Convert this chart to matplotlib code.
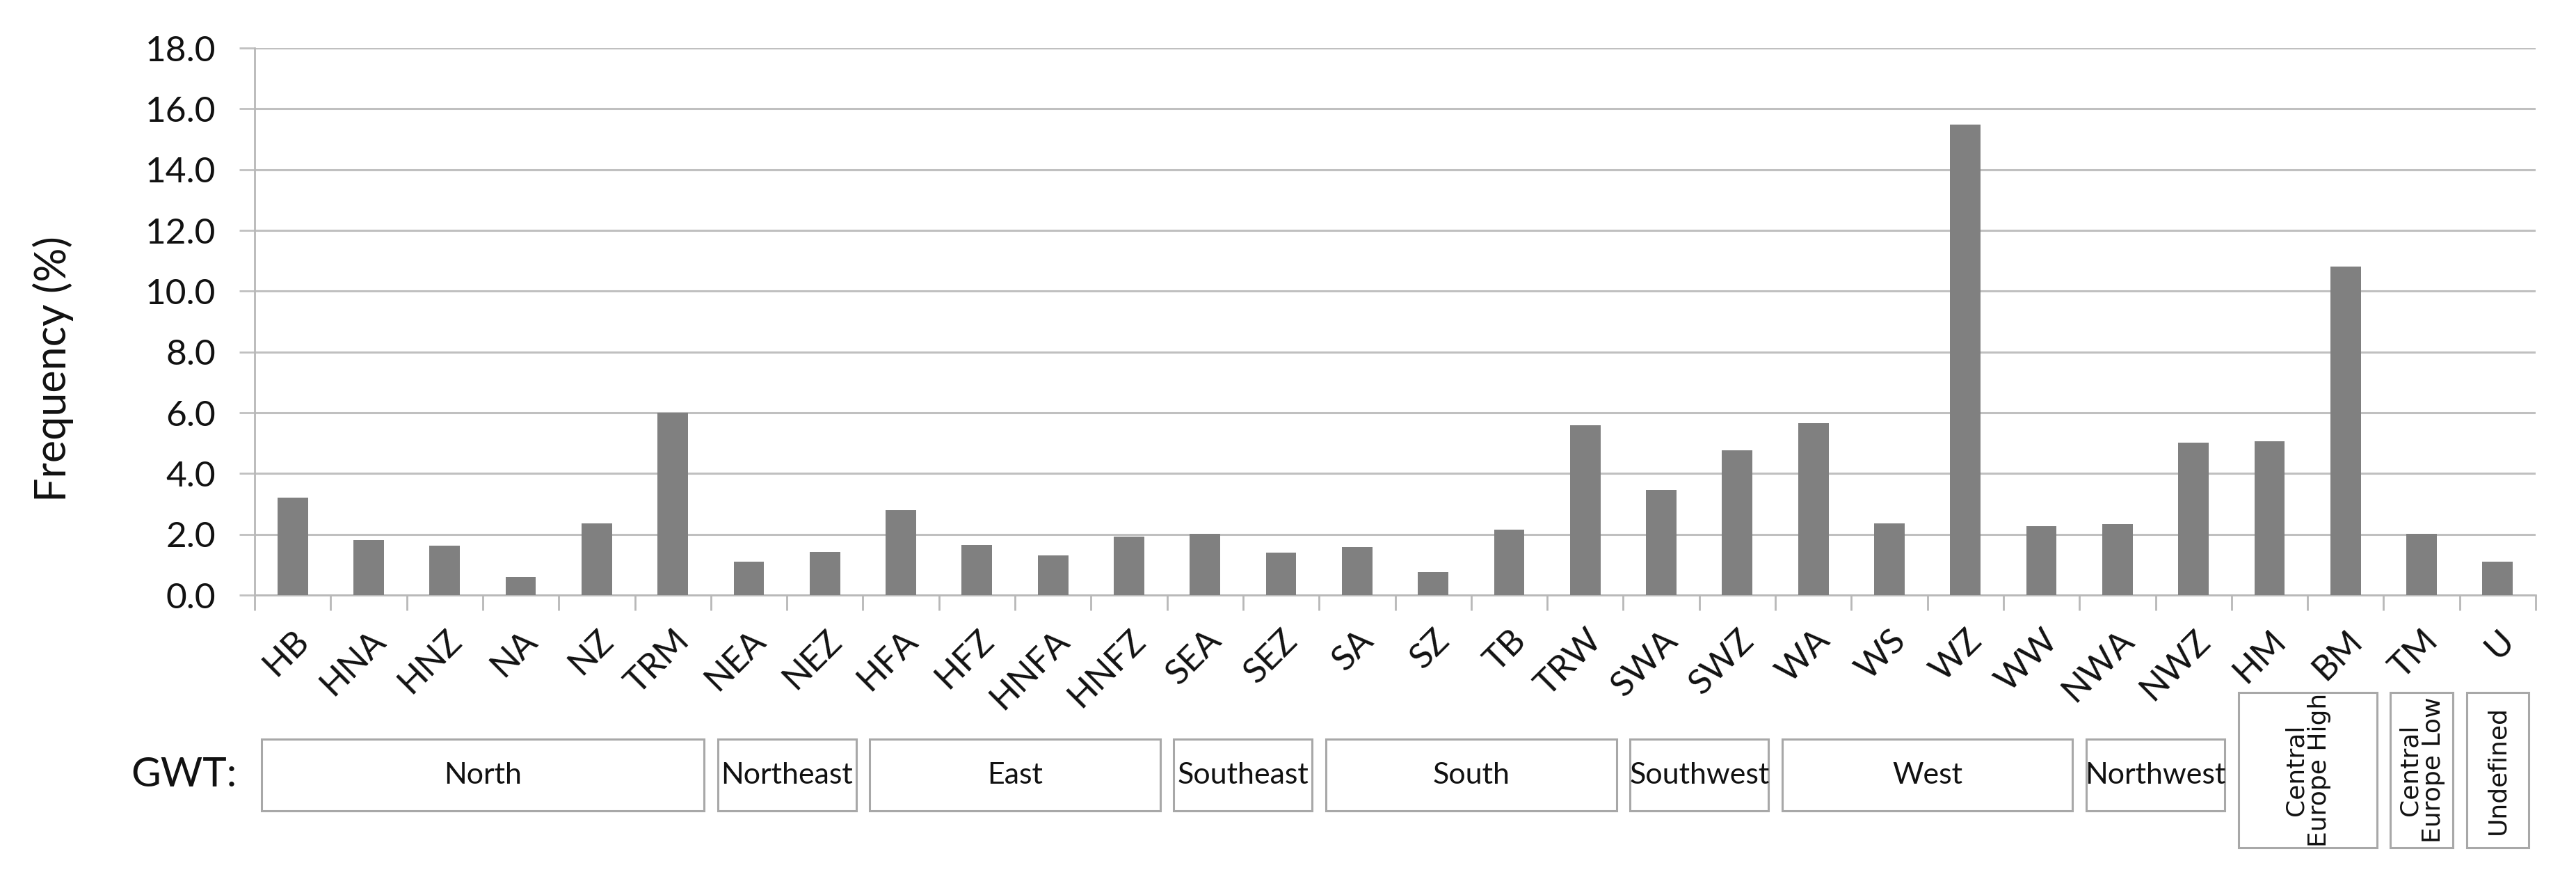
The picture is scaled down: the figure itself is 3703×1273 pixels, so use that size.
import matplotlib
matplotlib.use("Agg")
import matplotlib.pyplot as plt
from matplotlib.patches import Rectangle
from matplotlib.transforms import blended_transform_factory
from matplotlib.ticker import FormatStrFormatter, MultipleLocator

plt.rcParams['font.family'] = ['Lato', 'DejaVu Sans']

# weather types and their frequency (%)
types = ["HB", "HNA", "HNZ", "NA", "NZ", "TRM", "NEA", "NEZ", "HFA", "HFZ",
         "HNFA", "HNFZ", "SEA", "SEZ", "SA", "SZ", "TB", "TRW", "SWA", "SWZ",
         "WA", "WS", "WZ", "WW", "NWA", "NWZ", "HM", "BM", "TM", "U"]
freq = [3.2, 1.8, 1.62, 0.6, 2.35, 6.0, 1.1, 1.42, 2.8, 1.66,
        1.31, 1.93, 2.02, 1.4, 1.58, 0.76, 2.16, 5.58, 3.46, 4.77,
        5.65, 2.35, 15.48, 2.26, 2.34, 5.02, 5.07, 10.8, 2.02, 1.1]

# GWT groups (number of types in each)
group_names = ["North", "Northeast", "East", "Southeast", "South", "Southwest",
               "West", "Northwest", "Central\nEurope High", "Central\nEurope Low",
               "Undefined"]
group_sizes = [6, 2, 4, 2, 4, 2, 4, 2, 2, 1, 1]
group_vertical = [False] * 8 + [True] * 3

W, H = 3703, 1273
fig = plt.figure(figsize=(W / 100, H / 100), dpi=100)
ax = fig.add_axes([366 / W, 1 - 855 / H, (3645 - 366) / W, (855 - 69) / H])

x = list(range(len(types)))
ax.bar(x, freq, width=0.4, color='#808080', zorder=3)

ax.set_xlim(-0.5, len(types) - 0.5)
ax.set_ylim(0, 18)
ax.yaxis.set_major_locator(MultipleLocator(2))
ax.yaxis.set_major_formatter(FormatStrFormatter('%.1f'))
ax.grid(axis='y', color='#c0c0c0', linewidth=2.2, zorder=0)

for s in ['top', 'right']:
    ax.spines[s].set_visible(False)
for s in ['left', 'bottom']:
    ax.spines[s].set_color('#b8b8b8')
    ax.spines[s].set_linewidth(2.0)

ax.tick_params(axis='y', labelsize=37, length=16, width=2.0, color='#c0c0c0',
               pad=24, labelcolor='#111111')

# category labels at centers, tick marks at boundaries
ax.set_xticks(x)
ax.set_xticklabels(types, rotation=45, ha='right', rotation_mode='anchor',
                   fontsize=36, color='#111111')
ax.tick_params(axis='x', which='major', length=0, pad=30)
ax.set_xticks([i - 0.5 for i in range(len(types) + 1)], minor=True)
ax.tick_params(axis='x', which='minor', length=16, width=2.0, color='#b8b8b8')

fig.text(76 / W, 1 - 530 / H, "Frequency (%)", rotation=90, ha='center',
         va='center', fontsize=44, color='#111111')

fig.text(188 / W, 1 - 1113 / H, "GWT:", ha='left', va='center', fontsize=42,
         color='#111111')

# group boxes below the axis
trans = blended_transform_factory(ax.transData, fig.transFigure)
inset = 0.09
start = -0.5
for name, n, vert in zip(group_names, group_sizes, group_vertical):
    x0 = start + inset
    x1 = start + n - inset
    if vert:
        y0, y1 = 1 - 1218 / H, 1 - 995 / H
    else:
        y0, y1 = 1 - 1165 / H, 1 - 1062 / H
    ax.add_patch(Rectangle((x0, y0), x1 - x0, y1 - y0, transform=trans,
                           facecolor='white', edgecolor='#a8a8a8',
                           linewidth=2.2, clip_on=False))
    if vert:
        ax.text((x0 + x1) / 2, (y0 + y1) / 2, name, transform=trans,
                rotation=90, ha='center', va='center', fontsize=26,
                family='DejaVu Sans', linespacing=1.0, color='#111111')
    else:
        ax.text((x0 + x1) / 2, (y0 + y1) / 2, name, transform=trans,
                ha='center', va='center', fontsize=31, color='#111111')
    start += n

fig.savefig('out.png', dpi=100, facecolor='white')
